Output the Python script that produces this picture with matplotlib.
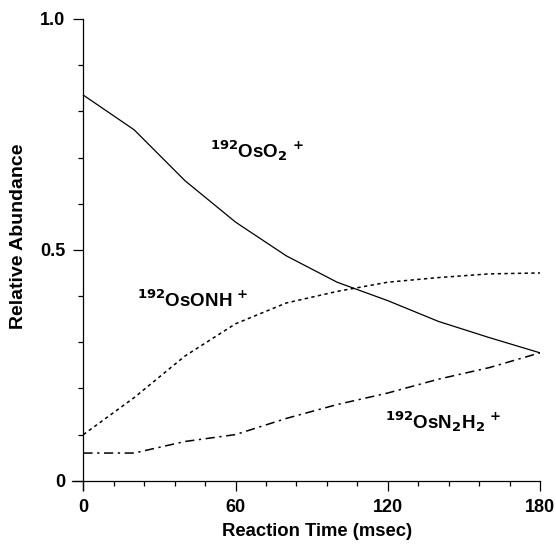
import numpy as np
import matplotlib.pyplot as plt
from matplotlib.ticker import MultipleLocator

plt.rcParams['font.family'] = ['Liberation Sans', 'DejaVu Sans']

# reaction time (msec) and relative abundances
time = [0, 20, 40, 60, 80, 100, 120, 140, 160, 180]
oso2 = [0.835, 0.76, 0.65, 0.56, 0.487, 0.43, 0.39, 0.345, 0.31, 0.277]
osonh = [0.10, 0.18, 0.27, 0.34, 0.385, 0.41, 0.43, 0.44, 0.448, 0.45]
osn2h2 = [0.06, 0.06, 0.085, 0.10, 0.135, 0.165, 0.19, 0.22, 0.245, 0.277]

fig = plt.figure(figsize=(5.56, 5.44), dpi=100)
ax = fig.add_axes([0.1295, 0.0993, 0.8417, 0.8658])

ax.plot(time, oso2, color='black', lw=0.9)
ax.plot(time, osonh, color='black', lw=1.1, linestyle=(0, (2.2, 2.2)))
ax.plot(time, osn2h2, color='black', lw=1.1, linestyle=(0, (6, 3, 1.5, 3)))

lab_kw = dict(fontsize=13.5, fontweight='bold', va='center')
ax.text(50, 0.716, r'$^{\mathbf{192}}$OsO$_\mathbf{2}$$^{\mathbf{\,+}}$', **lab_kw)
ax.text(21, 0.39, r'$^{\mathbf{192}}$OsONH$^{\mathbf{\,+}}$', **lab_kw)
ax.text(119, 0.128, r'$^{\mathbf{192}}$OsN$_\mathbf{2}$H$_\mathbf{2}$$^{\mathbf{\,+}}$', **lab_kw)

ax.set_xlim(-4.5, 180)
ax.set_ylim(-0.02, 1.0)
ax.spines['left'].set_position(('data', 0))
ax.spines['bottom'].set_position(('data', 0))
ax.spines['top'].set_visible(False)
ax.spines['right'].set_visible(False)
for s in ('left', 'bottom'):
    ax.spines[s].set_linewidth(0.9)

ax.set_xticks([0, 60, 120, 180])
ax.set_yticks([0, 0.5, 1.0])
ax.set_yticklabels(['0', '0.5', '1.0'])
ax.xaxis.set_minor_locator(MultipleLocator(12))
ax.yaxis.set_minor_locator(MultipleLocator(0.1))
ax.tick_params(which='major', direction='out', length=7, width=0.9,
               labelsize=13, pad=6)
ax.tick_params(which='minor', direction='out', length=3.5, width=0.9)
for lab in ax.get_xticklabels() + ax.get_yticklabels():
    lab.set_fontweight('bold')

fig.text(317 / 556, 1 - 532 / 544, 'Reaction Time (msec)', fontsize=13.3,
         fontweight='bold', ha='center', va='center')
fig.text(19 / 556, 1 - 236 / 544, 'Relative Abundance', fontsize=14,
         fontweight='bold', ha='center', va='center', rotation=90)

fig.savefig('out.png', dpi=100)
